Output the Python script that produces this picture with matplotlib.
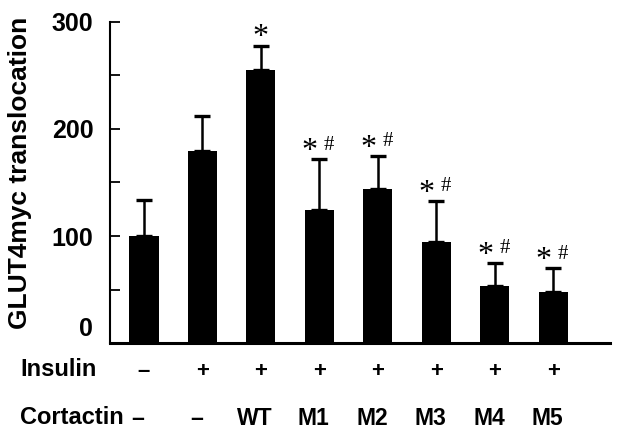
import matplotlib
matplotlib.use("Agg")
import matplotlib.pyplot as plt
import matplotlib.transforms as mtransforms
import numpy as np

# data
groups = ["ctrl", "ins", "WT", "M1", "M2", "M3", "M4", "M5"]
means = [100, 179, 255, 124, 144, 94, 53, 48]
errs = [34, 33, 23, 48, 31, 39, 22, 22]
insulin = ["\u2013", "+", "+", "+", "+", "+", "+", "+"]
cortactin = ["\u2013", "\u2013", "WT", "M1", "M2", "M3", "M4", "M5"]
marks = ["", "", "*", "*#", "*#", "*#", "*#", "*#"]

plt.rcParams["font.family"] = ["Liberation Sans", "DejaVu Sans"]
plt.rcParams["font.weight"] = "bold"

fig = plt.figure(figsize=(6.2, 4.36), dpi=100)
ax = fig.add_axes([110 / 620, 1 - 343 / 436, 500 / 620, 321 / 436])

x = np.arange(len(groups))
ax.bar(x, means, width=0.5, color="black", zorder=2)
ax.errorbar(x, means, yerr=[np.zeros(len(errs)), errs], fmt="none",
            ecolor="black", elinewidth=1.8, capsize=6, capthick=2.4, zorder=3)

ax.set_xlim(-0.58, 7.97)
ax.set_ylim(0, 300)
ax.spines["top"].set_visible(False)
ax.spines["right"].set_visible(False)
ax.spines["left"].set_linewidth(1.5)
ax.spines["bottom"].set_linewidth(2.2)

ax.set_xticks([])
ax.set_yticks([0, 50, 100, 150, 200, 250, 300])
ax.set_yticklabels(["0", "", "100", "", "200", "", "300"])
ax.tick_params(axis="y", direction="in", length=7, width=1.3, pad=12,
               labelsize=18)
for lab in ax.get_yticklabels():
    lab.set_fontweight("bold")
# the "0" sits a bit above the baseline in the original
zero = ax.get_yticklabels()[0]
zero.set_transform(zero.get_transform() +
                   mtransforms.ScaledTranslation(0, 17 / 100, fig.dpi_scale_trans))
ax.yaxis.get_major_ticks()[0].tick1line.set_visible(False)

fig.text(20 / 620, 1 - 173 / 436, "GLUT4myc translocation", rotation=90,
         ha="center", va="center", fontsize=19, fontweight="bold")

# significance marks
serif = dict(family="Liberation Serif", fontweight="normal", ha="center",
             va="center", textcoords="offset points")
for xi, m, e, s in zip(x, means, errs, marks):
    top = m + e
    if s == "*":
        ax.annotate("*", (xi, top), xytext=(0, 5.5), fontsize=23, **serif)
    elif s == "*#":
        ax.annotate("*", (xi, top), xytext=(-7, 5.5), fontsize=23, **serif)
        ax.annotate("#", (xi, top), xytext=(7, 10), fontsize=15, **serif)

# treatment table under the axis
tr = ax.get_xaxis_transform()
fig.text(20 / 620, 1 - 369 / 436, "Insulin", ha="left", va="center",
         fontsize=17, fontweight="bold")
fig.text(20 / 620, 1 - 417 / 436, "Cortactin", ha="left", va="center",
         fontsize=17, fontweight="bold")
for xi, a, b in zip(x, insulin, cortactin):
    ax.text(xi, -28 / 321, a, transform=tr, ha="center", va="center",
            fontsize=16, fontweight="bold", clip_on=False)
    ax.text(xi - 0.1, -75 / 321, b, transform=tr, ha="center", va="center",
            fontsize=16.5, fontweight="bold", clip_on=False)

fig.savefig("out.png", dpi=100)
